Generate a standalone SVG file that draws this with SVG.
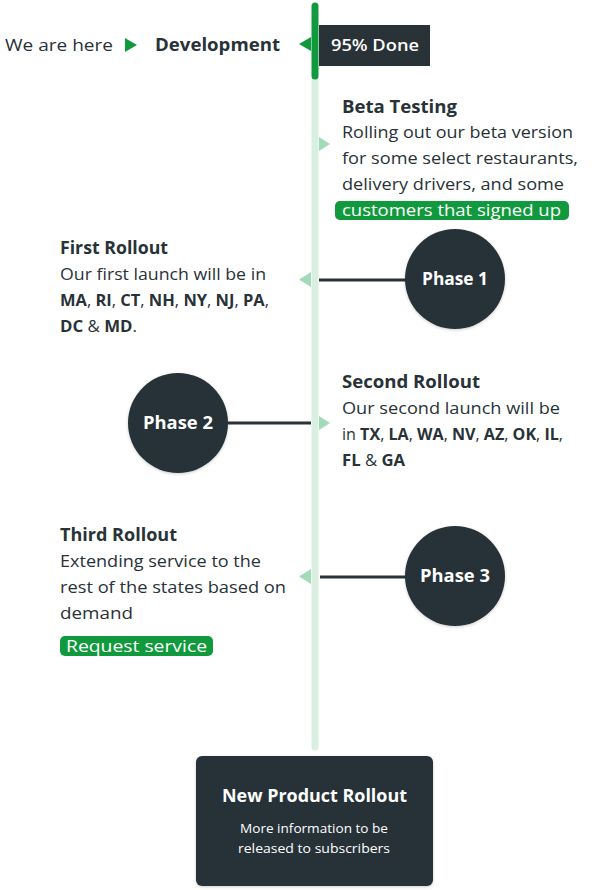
<svg xmlns="http://www.w3.org/2000/svg" width="595" height="890" viewBox="0 0 595 890">
<defs>
<style>
text{font-family:"Open Sans","Liberation Sans",sans-serif;fill:#283237}
.h{font-size:17.5px;font-weight:700}
.b{font-size:16px}
.w{fill:#fff}
.bd{font-weight:700}
.dark{fill:#283237}
.conn{stroke:#283237;stroke-width:3;fill:none}
.tri{fill:#a3dab7}
.pill{fill:#109a3d}
</style>
<filter id="sh" x="-20%" y="-20%" width="140%" height="140%"><feDropShadow dx="0" dy="1" stdDeviation="1.5" flood-color="#000" flood-opacity="0.2"/></filter>
</defs>
<rect width="595" height="890" fill="#fff"/>
<g id="timeline">
<line x1="315" y1="80" x2="315" y2="747" stroke="#d9efe1" stroke-width="7" stroke-linecap="round"/>
<line x1="315" y1="6" x2="315" y2="76" stroke="#109a3d" stroke-width="7" stroke-linecap="round"/>
</g>
<g id="connectors">
<line class="conn" x1="319" y1="280" x2="406" y2="280"/>
<line class="conn" x1="228" y1="423" x2="311" y2="423"/>
<line class="conn" x1="320" y1="577" x2="406" y2="577"/>
<polygon class="tri" points="319,137 330,144 319,151"/>
<polygon class="tri" points="311,272 299,279.5 311,287"/>
<polygon class="tri" points="319,416 330,423 319,430"/>
<polygon class="tri" points="311,569 299,576.5 311,584"/>
</g>
<g id="status">
<text x="5" y="51" style="font-size:17px" textLength="108" lengthAdjust="spacingAndGlyphs">We are here</text>
<polygon points="125,38 137,45 125,52" fill="#109a3d"/>
<text x="155" y="51" class="h" textLength="125" lengthAdjust="spacingAndGlyphs">Development</text>
<polygon points="311,37 299,44 311,51" fill="#109a3d"/>
<rect x="319" y="25" width="111" height="41" class="dark"/>
<text x="331" y="51" class="w" style="font-size:16.5px;font-weight:600" textLength="88" lengthAdjust="spacingAndGlyphs">95% Done</text>
</g>
<g id="beta">
<text x="342" y="113" class="h" textLength="115" lengthAdjust="spacingAndGlyphs">Beta Testing</text>
<text x="342" y="138" class="b" textLength="231" lengthAdjust="spacingAndGlyphs">Rolling out our beta version</text>
<text x="342" y="164" class="b" textLength="236" lengthAdjust="spacingAndGlyphs">for some select restaurants,</text>
<text x="342" y="190" class="b" textLength="222" lengthAdjust="spacingAndGlyphs">delivery drivers, and some</text>
<rect x="335" y="201" width="234" height="19" rx="5" class="pill"/>
<text x="342" y="216" class="b w" textLength="219" lengthAdjust="spacingAndGlyphs">customers that signed up</text>
</g>
<g id="phase1">
<circle cx="455" cy="279" r="50" class="dark" filter="url(#sh)"/>
<text x="422" y="285" class="h w" textLength="66" lengthAdjust="spacingAndGlyphs">Phase 1</text>
</g>
<g id="first">
<text x="60" y="254" class="h" textLength="108" lengthAdjust="spacingAndGlyphs">First Rollout</text>
<text x="60" y="280" class="b" textLength="206" lengthAdjust="spacingAndGlyphs">Our first launch will be in</text>
<text x="60" y="306" class="b" textLength="209" lengthAdjust="spacingAndGlyphs"><tspan class="bd">MA</tspan>, <tspan class="bd">RI</tspan>, <tspan class="bd">CT</tspan>, <tspan class="bd">NH</tspan>, <tspan class="bd">NY</tspan>, <tspan class="bd">NJ</tspan>, <tspan class="bd">PA</tspan>,</text>
<text x="60" y="332" class="b" textLength="77" lengthAdjust="spacingAndGlyphs"><tspan class="bd">DC</tspan> &amp; <tspan class="bd">MD</tspan>.</text>
</g>
<g id="phase2">
<circle cx="178" cy="423" r="50" class="dark" filter="url(#sh)"/>
<text x="143" y="429" class="h w" textLength="70" lengthAdjust="spacingAndGlyphs">Phase 2</text>
</g>
<g id="second">
<text x="342" y="388" class="h" textLength="138" lengthAdjust="spacingAndGlyphs">Second Rollout</text>
<text x="342" y="414" class="b" textLength="218" lengthAdjust="spacingAndGlyphs">Our second launch will be</text>
<text x="342" y="440" class="b" textLength="221" lengthAdjust="spacingAndGlyphs">in <tspan class="bd">TX</tspan>, <tspan class="bd">LA</tspan>, <tspan class="bd">WA</tspan>, <tspan class="bd">NV</tspan>, <tspan class="bd">AZ</tspan>, <tspan class="bd">OK</tspan>, <tspan class="bd">IL</tspan>,</text>
<text x="342" y="466" class="b" textLength="63" lengthAdjust="spacingAndGlyphs"><tspan class="bd">FL</tspan> &amp; <tspan class="bd">GA</tspan></text>
</g>
<g id="phase3">
<circle cx="455" cy="576" r="50" class="dark" filter="url(#sh)"/>
<text x="420" y="582" class="h w" textLength="70" lengthAdjust="spacingAndGlyphs">Phase 3</text>
</g>
<g id="third">
<text x="60" y="541" class="h" textLength="117" lengthAdjust="spacingAndGlyphs">Third Rollout</text>
<text x="60" y="567" class="b" textLength="201" lengthAdjust="spacingAndGlyphs">Extending service to the</text>
<text x="60" y="593" class="b" textLength="226" lengthAdjust="spacingAndGlyphs">rest of the states based on</text>
<text x="60" y="619" class="b" textLength="73" lengthAdjust="spacingAndGlyphs">demand</text>
<rect x="60" y="636" width="153" height="20" rx="5" class="pill"/>
<text x="66" y="652" class="b w" textLength="141" lengthAdjust="spacingAndGlyphs">Request service</text>
</g>
<g id="final">
<rect x="196" y="756" width="237" height="130" rx="6" class="dark" filter="url(#sh)"/>
<text x="222" y="802" class="h w" textLength="185" lengthAdjust="spacingAndGlyphs">New Product Rollout</text>
<text x="240" y="833" class="w" style="font-size:13px" textLength="148" lengthAdjust="spacingAndGlyphs">More information to be</text>
<text x="238" y="853" class="w" style="font-size:13px" textLength="152" lengthAdjust="spacingAndGlyphs">released to subscribers</text>
</g>
</svg>
